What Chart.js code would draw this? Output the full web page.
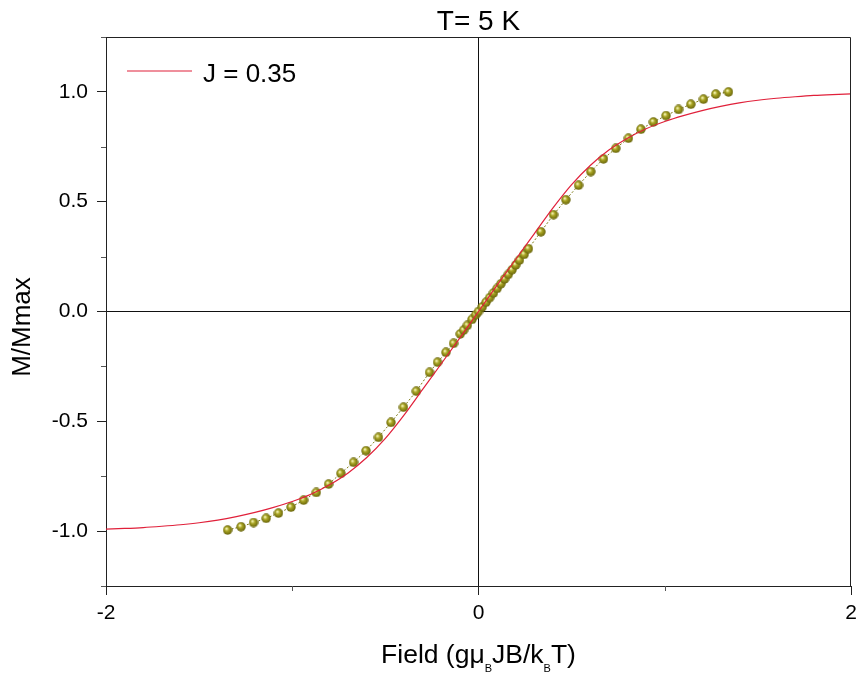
<!DOCTYPE html>
<html>
<head>
<meta charset="utf-8">
<script src="https://cdn.jsdelivr.net/npm/chart.js@4.4.1/dist/chart.umd.min.js"></script>
<style>
  html, body { margin: 0; padding: 0; background: #fff; }
  #wrap { width: 856px; height: 676px; }
</style>
</head>
<body>
<div id="wrap"><canvas id="mChart" width="856" height="676"></canvas></div>
<script>
// measured points (field in g*muB*J*B/kB*T, reduced magnetisation)
const dataField = [-1.347, -1.275, -1.208, -1.140, -1.074, -1.007, -0.939, -0.871, -0.805, -0.739,
  -0.671, -0.604, -0.537, -0.470, -0.403, -0.334, -0.263, -0.220, -0.175, -0.134,
  -0.098, -0.080, -0.060, -0.035, -0.015,
  0.0, 0.02, 0.04, 0.06, 0.08, 0.10, 0.12, 0.14, 0.16, 0.18, 0.20, 0.22, 0.245,
  0.268, 0.335, 0.403, 0.469, 0.537, 0.603, 0.671, 0.737, 0.805, 0.872, 0.939,
  1.007, 1.074, 1.140, 1.208, 1.274, 1.342];
const dataM = [-0.995, -0.980, -0.961, -0.942, -0.918, -0.891, -0.859, -0.824, -0.786, -0.737,
  -0.687, -0.634, -0.573, -0.505, -0.436, -0.363, -0.277, -0.231, -0.186, -0.145,
  -0.102, -0.085, -0.063, -0.036, -0.015,
  0.0, 0.021, 0.042, 0.063, 0.084, 0.105, 0.126, 0.148, 0.169, 0.190, 0.212, 0.234, 0.260,
  0.286, 0.363, 0.441, 0.509, 0.575, 0.637, 0.695, 0.743, 0.789, 0.830, 0.863,
  0.892, 0.920, 0.944, 0.967, 0.990, 1.000];

// Brillouin fit, J = 0.35
const fitField = [-2.0, -1.9, -1.8, -1.7, -1.6, -1.5, -1.4, -1.3, -1.2, -1.1, -1.0,
  -0.9, -0.8, -0.7, -0.6, -0.5, -0.4, -0.3, -0.2, -0.1, 0.0,
  0.1, 0.2, 0.3, 0.4, 0.5, 0.6, 0.7, 0.8, 0.9, 1.0,
  1.1, 1.2, 1.3, 1.4, 1.5, 1.6, 1.7, 1.8, 1.9, 2.0];
const fitM = [-0.991, -0.988, -0.984, -0.978, -0.971, -0.962, -0.950, -0.934, -0.915, -0.892, -0.865,
  -0.832, -0.789, -0.735, -0.665, -0.578, -0.472, -0.355, -0.238, -0.120, 0.0,
  0.120, 0.238, 0.355, 0.472, 0.578, 0.665, 0.735, 0.789, 0.832, 0.865,
  0.892, 0.915, 0.934, 0.950, 0.962, 0.971, 0.978, 0.984, 0.988, 0.991];

const xMajorTicks = [-2, 0, 2];
const xMinorTicks = [-1, 1];
const yMajorTicks = [-1.0, -0.5, 0.0, 0.5, 1.0];
const yMinorTicks = [-1.25, -0.75, -0.25, 0.25, 0.75, 1.25];

const FONT = "'Liberation Sans', Arial, sans-serif";

// shaded ball marker
function makeBall(size) {
  const c = document.createElement("canvas");
  c.width = size;
  c.height = size;
  const g = c.getContext("2d");
  const r = size / 2;
  const grad = g.createRadialGradient(r * 0.75, r * 0.7, 0.5, r, r, r);
  grad.addColorStop(0, "#f6f4b4");
  grad.addColorStop(0.35, "#aaa624");
  grad.addColorStop(1, "#625e08");
  g.fillStyle = grad;
  g.beginPath();
  g.arc(r, r, r - 0.3, 0, Math.PI * 2);
  g.fill();
  return c;
}

const decorPlugin = {
  id: "decor",
  afterDraw(chart) {
    const { ctx, chartArea: a, scales } = chart;
    const xs = scales.x, ys = scales.y;
    ctx.save();

    // frame top + right
    ctx.strokeStyle = "#222";
    ctx.lineWidth = 1;
    ctx.beginPath();
    ctx.moveTo(Math.round(a.left) + 0.5, Math.round(a.top) + 0.5);
    ctx.lineTo(Math.round(a.right) - 0.5, Math.round(a.top) + 0.5);
    ctx.lineTo(Math.round(a.right) - 0.5, Math.round(a.bottom) + 0.5);
    ctx.stroke();

    // minor ticks
    ctx.strokeStyle = "#555";
    ctx.beginPath();
    xMinorTicks.forEach(v => {
      const px = Math.round(xs.getPixelForValue(v)) + 0.5;
      ctx.moveTo(px, a.bottom);
      ctx.lineTo(px, a.bottom + 5);
    });
    yMinorTicks.forEach(v => {
      const py = Math.round(ys.getPixelForValue(v)) + 0.5;
      ctx.moveTo(a.left, py);
      ctx.lineTo(a.left - 5, py);
    });
    ctx.stroke();

    ctx.fillStyle = "#000";

    // title
    ctx.font = "28px " + FONT;
    ctx.textAlign = "center";
    ctx.textBaseline = "alphabetic";
    ctx.fillText("T= 5 K", (a.left + a.right) / 2, 30);

    // legend
    ctx.strokeStyle = "#e0203a";
    ctx.lineWidth = 1.2;
    ctx.beginPath();
    ctx.moveTo(127, 71);
    ctx.lineTo(192, 71);
    ctx.stroke();
    ctx.font = "26px " + FONT;
    ctx.textAlign = "left";
    ctx.fillText("J = 0.35", 203, 82);

    // x title with subscripts
    const big = "26.5px " + FONT, small = "11px " + FONT;
    const parts = [["Field (gμ", big, 0], ["B", small, 9], ["JB/k", big, 0], ["B", small, 9], ["T)", big, 0]];
    let total = 0;
    parts.forEach(p => { ctx.font = p[1]; total += ctx.measureText(p[0]).width; });
    let x = (a.left + a.right) / 2 - total / 2;
    parts.forEach(p => {
      ctx.font = p[1];
      ctx.fillText(p[0], x, 663 + p[2]);
      x += ctx.measureText(p[0]).width;
    });

    // y title
    ctx.translate(23, 327);
    ctx.rotate(-Math.PI / 2);
    ctx.font = "26px " + FONT;
    ctx.textAlign = "center";
    ctx.textBaseline = "middle";
    ctx.fillText("M/Mmax", 0, 0);

    ctx.restore();
  }
};

const zeroLine = ctx => (ctx.tick && ctx.tick.value === 0 ? "#111" : "rgba(0,0,0,0)");

new Chart(document.getElementById("mChart"), {
  type: "scatter",
  data: {
    datasets: [
      {
        label: "J = 0.35",
        data: fitField.map((f, i) => ({ x: f, y: fitM[i] })),
        showLine: true,
        borderColor: "#e0203a",
        borderWidth: 1.2,
        pointRadius: 0,
        cubicInterpolationMode: "monotone",
        order: 0
      },
      {
        label: "data",
        data: dataField.map((f, i) => ({ x: f, y: dataM[i] })),
        showLine: true,
        borderColor: "#7d7a14",
        borderWidth: 1,
        borderDash: [2, 2],
        pointStyle: makeBall(10),
        order: 1
      }
    ]
  },
  options: {
    responsive: false,
    animation: false,
    layout: { padding: { top: 37, right: 5, left: 0, bottom: 0 } },
    plugins: { legend: { display: false }, tooltip: { enabled: false } },
    scales: {
      x: {
        type: "linear",
        min: -2,
        max: 2,
        afterBuildTicks: s => { s.ticks = xMajorTicks.map(v => ({ value: v })); },
        afterFit: s => { s.height = 90; s.paddingLeft = 0; s.paddingRight = 0; },
        ticks: {
          color: "#000",
          font: { family: FONT, size: 21 },
          padding: 6,
          maxRotation: 0,
          callback: v => String(v)
        },
        grid: { drawOnChartArea: true, color: zeroLine, tickColor: "#222", tickLength: 9, lineWidth: 1 },
        border: { display: true, color: "#222", width: 1 }
      },
      y: {
        type: "linear",
        min: -1.25,
        max: 1.25,
        afterBuildTicks: s => { s.ticks = yMajorTicks.map(v => ({ value: v })); },
        afterFit: s => { s.width = 106; },
        ticks: {
          color: "#000",
          font: { family: FONT, size: 21 },
          padding: 9,
          callback: v => Number(v).toFixed(1)
        },
        grid: { drawOnChartArea: true, color: zeroLine, tickColor: "#222", tickLength: 9, lineWidth: 1 },
        border: { display: true, color: "#222", width: 1 }
      }
    }
  },
  plugins: [decorPlugin]
});
</script>
</body>
</html>
